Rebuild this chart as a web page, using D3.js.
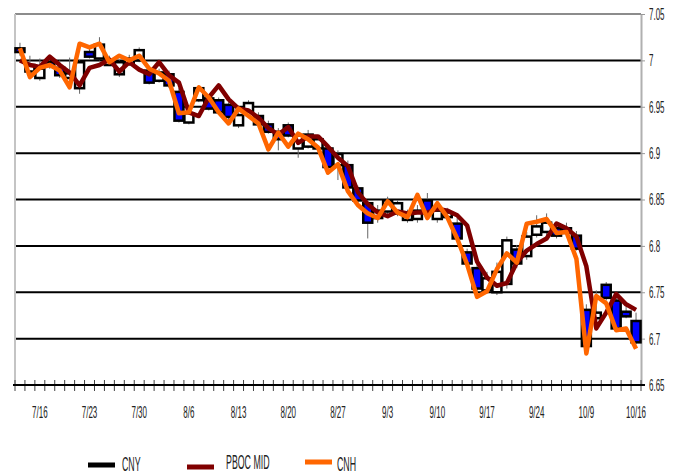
<!DOCTYPE html>
<html>
<head>
<meta charset="utf-8">
<script src="https://cdn.jsdelivr.net/npm/d3@7"></script>
<style>
body{margin:0;background:#fff;}
text{font-family:"Liberation Sans",Arial,sans-serif;fill:#222;}
</style>
</head>
<body>
<div id="chart"></div>
<script>
// trading days (2020), CNY candles, PBOC fixing and CNH close
const dates = ["7/14","7/15","7/16","7/17","7/20","7/21","7/22","7/23","7/24","7/27","7/28","7/29","7/30","7/31",
  "8/3","8/4","8/5","8/6","8/7","8/10","8/11","8/12","8/13","8/14","8/17","8/18","8/19","8/20","8/21",
  "8/24","8/25","8/26","8/27","8/28","8/31","9/1","9/2","9/3","9/4","9/7","9/8","9/9","9/10","9/11",
  "9/14","9/15","9/16","9/17","9/18","9/21","9/22","9/23","9/24","9/25","9/28","9/29","9/30",
  "10/9","10/12","10/13","10/14","10/15","10/16"]

const cnyOpen = [7.013,6.988,6.981,6.998,6.992,6.981,6.970,7.009,7.002,6.995,6.985,6.996,7.000,6.989,
  6.978,6.985,6.966,6.933,6.957,6.959,6.957,6.952,6.930,6.945,6.940,6.931,6.923,6.930,6.905,
  6.907,6.905,6.905,6.887,6.887,6.862,6.846,6.830,6.837,6.835,6.828,6.829,6.849,6.829,6.831,
  6.824,6.793,6.776,6.752,6.750,6.759,6.796,6.789,6.812,6.815,6.819,6.819,6.811,
  6.731,6.722,6.758,6.741,6.729,6.719]
const cnyHigh = [7.019,7.005,7.002,7.002,7.000,7.003,7.000,7.013,7.025,7.005,7.000,7.006,7.014,6.994,
  6.991,6.989,6.970,6.948,6.973,6.962,6.960,6.955,6.944,6.957,6.944,6.935,6.927,6.933,6.922,
  6.925,6.919,6.908,6.903,6.892,6.865,6.849,6.844,6.853,6.849,6.839,6.844,6.857,6.843,6.841,
  6.830,6.797,6.780,6.772,6.782,6.810,6.801,6.815,6.833,6.835,6.825,6.825,6.816,
  6.737,6.752,6.761,6.745,6.736,6.728]
const cnyLow = [7.005,6.986,6.978,6.991,6.981,6.978,6.964,7.002,7.000,6.994,6.982,6.994,6.998,6.974,
  6.976,6.970,6.933,6.931,6.955,6.946,6.942,6.935,6.927,6.943,6.929,6.921,6.903,6.917,6.895,
  6.905,6.903,6.881,6.871,6.860,6.846,6.808,6.825,6.834,6.832,6.825,6.825,6.833,6.825,6.828,
  6.806,6.778,6.751,6.749,6.747,6.754,6.776,6.785,6.809,6.810,6.808,6.810,6.795,
  6.691,6.718,6.741,6.708,6.722,6.694]
const cnyClose = [7.009,6.995,6.991,6.994,6.984,6.986,6.998,7.004,7.017,7.000,6.998,7.002,7.011,6.976,
  6.987,6.973,6.935,6.943,6.970,6.948,6.944,6.939,6.941,6.954,6.931,6.923,6.915,6.919,6.919,
  6.920,6.915,6.885,6.899,6.863,6.849,6.825,6.838,6.849,6.846,6.835,6.838,6.836,6.838,6.836,
  6.808,6.781,6.754,6.765,6.772,6.806,6.781,6.810,6.821,6.825,6.811,6.814,6.797,
  6.692,6.728,6.744,6.711,6.724,6.696]

const pbocMid = [7.000,6.995,6.993,7.004,6.995,6.987,6.973,6.992,6.995,7.001,6.988,6.998,6.990,6.985,
  6.998,6.984,6.976,6.944,6.940,6.960,6.973,6.958,6.948,6.946,6.938,6.927,6.920,6.928,6.911,
  6.918,6.918,6.907,6.895,6.886,6.858,6.845,6.836,6.832,6.837,6.835,6.836,6.836,6.840,6.838,
  6.833,6.822,6.783,6.766,6.757,6.760,6.782,6.795,6.802,6.808,6.824,6.819,6.810,
  6.778,6.711,6.728,6.748,6.737,6.731]

const cnh = [7.013,6.982,6.992,6.995,6.989,6.971,7.018,7.014,7.018,6.998,7.005,7.000,7.005,6.991,
  6.986,6.978,6.943,6.944,6.971,6.960,6.944,6.932,6.948,6.940,6.932,6.904,6.922,6.907,6.921,
  6.915,6.906,6.879,6.888,6.859,6.844,6.835,6.830,6.848,6.836,6.831,6.855,6.830,6.846,6.831,
  6.808,6.780,6.745,6.751,6.775,6.792,6.782,6.824,6.826,6.829,6.814,6.815,6.786,
  6.684,6.746,6.738,6.709,6.711,6.689]

const xLabels = ["7/16","7/23","7/30","8/6","8/13","8/20","8/27","9/3","9/10","9/17","9/24","10/9","10/16"]
const yTicks = [6.65,6.7,6.75,6.8,6.85,6.9,6.95,7,7.05]
const legendNames = ["CNY","PBOC MID","CNH"]
const legendColors = ["#000000","#800000","#ff6600"]

const width = 677
const height = 476
const plot = {left: 15, right: 641, top: 14, bottom: 385}
const sx = 0.47   // condensed look of the labels

const svg = d3.select("#chart").append("svg")
  .attr("width", width)
  .attr("height", height)

const x = d3.scaleBand()
  .domain(dates)
  .range([plot.left, plot.right])
const bw = x.bandwidth()

const y = d3.scaleLinear()
  .domain([6.65, 7.05])
  .range([plot.bottom, plot.top])

// gridlines
svg.append("g")
  .selectAll("line")
  .data(yTicks.filter(d => d > 6.66 && d < 7.04))
  .enter()
  .append("line")
  .attr("x1", plot.left).attr("x2", plot.right)
  .attr("y1", d => y(d)).attr("y2", d => y(d))
  .attr("stroke", "#000").attr("stroke-width", 2)

// frame
svg.append("line")
  .attr("x1", plot.left).attr("x2", plot.right)
  .attr("y1", plot.top).attr("y2", plot.top)
  .attr("stroke", "#8c8c8c").attr("stroke-width", 2)
svg.append("line")
  .attr("x1", plot.left).attr("x2", plot.left)
  .attr("y1", plot.top).attr("y2", plot.bottom)
  .attr("stroke", "#c4c4c4").attr("stroke-width", 2)

// right axis
const yAxis = svg.append("g")
  .attr("transform", "translate(" + plot.right + ",0)")
  .call(d3.axisRight(y).tickValues(yTicks).tickSize(4).tickSizeOuter(0)
    .tickFormat(d => String(+d.toFixed(2))))
yAxis.select(".domain").attr("stroke", "#b0b0b0").attr("stroke-width", 2)
yAxis.selectAll(".tick line").attr("stroke", "#999")
yAxis.selectAll("text")
  .attr("x", 8 / sx)
  .attr("transform", "scale(" + sx + ",1)")
  .style("font-size", "17px")
  .style("fill", "#222")
  .attr("font-family", null)

// bottom axis line + category ticks
svg.append("g")
  .selectAll("line")
  .data(d3.range(dates.length + 1))
  .enter()
  .append("line")
  .attr("x1", d => plot.left + d * bw).attr("x2", d => plot.left + d * bw)
  .attr("y1", plot.bottom - 5).attr("y2", plot.bottom + 6)
  .attr("stroke", "#444").attr("stroke-width", 1)
svg.append("line")
  .attr("x1", plot.left - 2).attr("x2", plot.right + 4)
  .attr("y1", plot.bottom).attr("y2", plot.bottom)
  .attr("stroke", "#000").attr("stroke-width", 2)

svg.append("g")
  .selectAll("text")
  .data(xLabels)
  .enter()
  .append("text")
  .attr("transform", d => "translate(" + (x(d) + bw / 2) + ",418) scale(" + sx + ",1)")
  .style("text-anchor", "middle")
  .style("font-size", "17px")
  .text(d => d)

// CNY candles
const candles = svg.append("g")
  .selectAll("g")
  .data(dates)
  .enter()
  .append("g")

candles.append("line")
  .attr("x1", d => x(d) + bw / 2).attr("x2", d => x(d) + bw / 2)
  .attr("y1", (d, i) => y(cnyHigh[i])).attr("y2", (d, i) => y(cnyLow[i]))
  .attr("stroke", "#666").attr("stroke-width", 1)

candles.append("rect")
  .attr("x", d => x(d) + bw / 2 - 4.5)
  .attr("width", 9)
  .attr("y", (d, i) => y(Math.max(cnyOpen[i], cnyClose[i])))
  .attr("height", (d, i) => Math.max(1, Math.abs(y(cnyOpen[i]) - y(cnyClose[i]))))
  .attr("fill", (d, i) => cnyClose[i] < cnyOpen[i] ? "#0000ff" : "#ffffff")
  .attr("stroke", "#000").attr("stroke-width", 2.5)

// PBOC fixing and CNH
const line = d3.line()
  .x((d, i) => x(dates[i]) + bw / 2)
  .y(d => y(d))

svg.append("path")
  .datum(pbocMid)
  .attr("d", line)
  .attr("fill", "none")
  .attr("stroke", "#800000")
  .attr("stroke-width", 4.5)
  .attr("stroke-linejoin", "round")

svg.append("path")
  .datum(cnh)
  .attr("d", line)
  .attr("fill", "none")
  .attr("stroke", "#ff6600")
  .attr("stroke-width", 4.5)
  .attr("stroke-linejoin", "round")

// legend
const legendPos = [{sx: 88, sy: 465, tx: 122, ty: 471}, {sx: 187, sy: 467, tx: 226, ty: 469}, {sx: 305, sy: 462, tx: 337, ty: 471}]
const legend = svg.append("g")
  .selectAll("g")
  .data(legendNames)
  .enter()
  .append("g")
legend.append("rect")
  .attr("x", (d, i) => legendPos[i].sx)
  .attr("y", (d, i) => legendPos[i].sy - 2.5)
  .attr("width", 27).attr("height", 5)
  .attr("fill", (d, i) => legendColors[i])
legend.append("text")
  .attr("transform", (d, i) => "translate(" + legendPos[i].tx + "," + legendPos[i].ty + ") scale(0.42,1)")
  .style("font-size", "21px")
  .text(d => d)
</script>
</body>
</html>
